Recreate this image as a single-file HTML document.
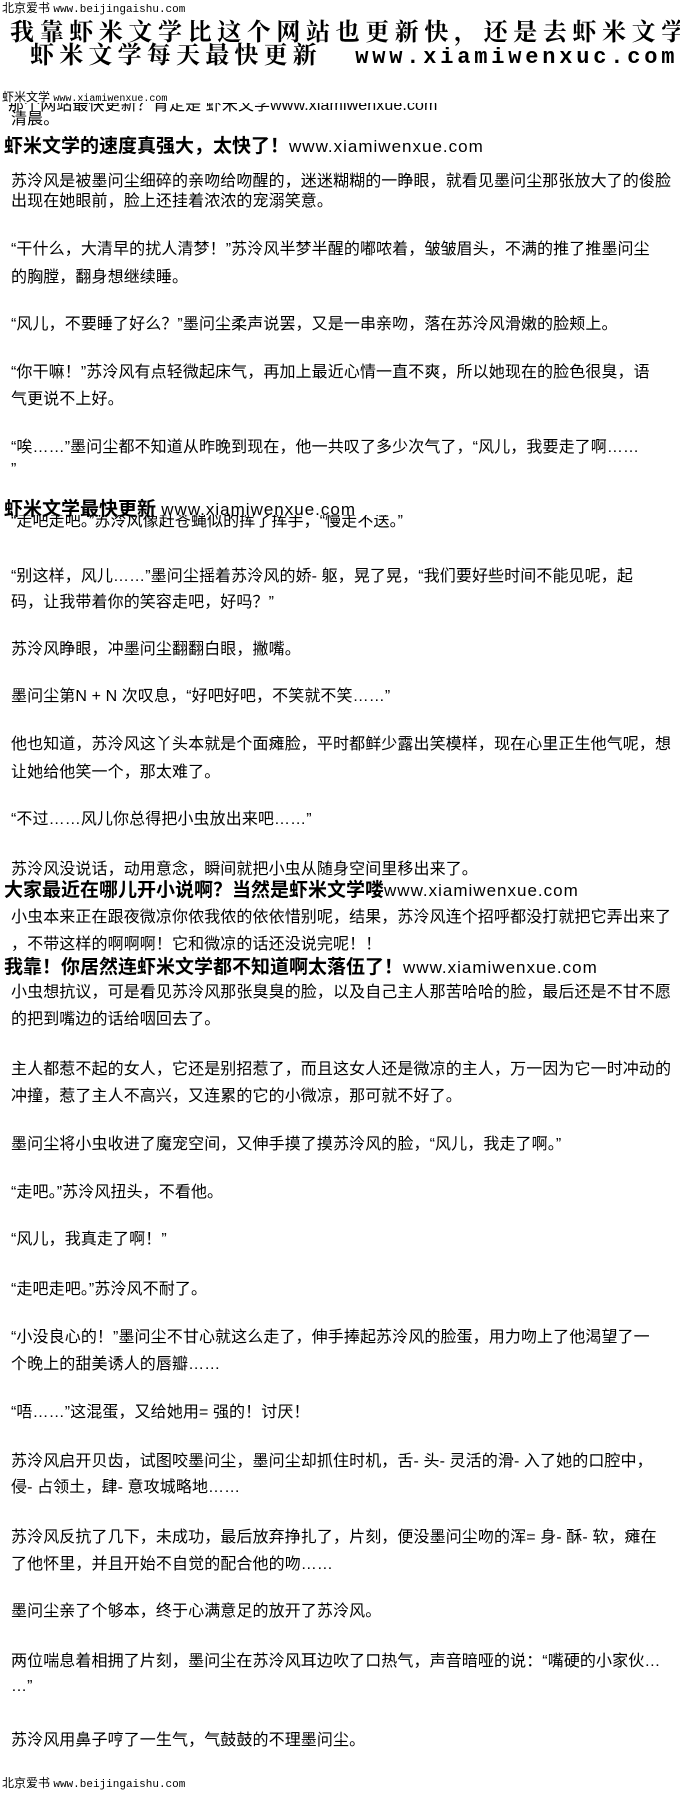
<!DOCTYPE html>
<html><head><meta charset="utf-8"><style>
html,body{margin:0;padding:0;background:#fff;}
body{width:680px;height:1794px;position:relative;overflow:hidden;font-family:"Liberation Sans","WenQuanYi Zen Hei","Noto Sans CJK SC",sans-serif;color:#000;}
.l{position:absolute;left:11px;white-space:nowrap;font-size:16px;line-height:18px;letter-spacing:0.1px;}
.h{position:absolute;left:4px;white-space:nowrap;font-size:19px;line-height:20px;font-weight:bold;}
.h span{font-weight:normal;font-size:17px;letter-spacing:1px;}
.s{position:absolute;left:2px;white-space:nowrap;font-size:12px;line-height:14px;}
.big{position:absolute;white-space:nowrap;font-family:"Liberation Serif","Noto Serif CJK SC",serif;font-weight:bold;font-size:24px;line-height:26px;}
</style></head><body>
<div class="s" style="top:1px">北京爱书 <span style="font-family:'Liberation Mono',monospace;font-size:11px">www.beijingaishu.com</span></div>
<div class="big" style="top:20px;left:10px;letter-spacing:5.6px">我靠虾米文学比这个网站也更新快，还是去虾米文学</div>
<div class="big" style="top:43px;left:30px;letter-spacing:5.2px">虾米文学每天最快更新 <span style="font-family:'Liberation Mono',monospace;font-size:22px;letter-spacing:3.8px;margin-left:22px">www.xiamiwenxuc.com</span></div>
<div class="s" style="top:90px">虾米文学 <span style="font-family:'Liberation Mono',monospace;font-size:10px">www.xiamiwenxue.com</span></div>
<div style="position:absolute;top:103px;left:0;width:680px;height:13px;overflow:hidden;"><div class="l" style="top:-6px;left:8px">那个网站最快更新？肯定是 虾米文学www.xiamiwenxue.com</div></div>
<div class="l" style="top:111px">清晨。</div>
<div class="h" style="top:137px">虾米文学的速度真强大，太快了！<span>www.xiamiwenxue.com</span></div>
<div class="l" style="top:173px">苏泠风是被墨问尘细碎的亲吻给吻醒的，迷迷糊糊的一睁眼，就看见墨问尘那张放大了的俊脸</div>
<div class="l" style="top:193px">出现在她眼前，脸上还挂着浓浓的宠溺笑意。</div>
<div class="l" style="top:241px">“干什么，大清早的扰人清梦！”苏泠风半梦半醒的嘟哝着，皱皱眉头，不满的推了推墨问尘</div>
<div class="l" style="top:269px">的胸膛，翻身想继续睡。</div>
<div class="l" style="top:316px">“风儿，不要睡了好么？”墨问尘柔声说罢，又是一串亲吻，落在苏泠风滑嫩的脸颊上。</div>
<div class="l" style="top:364px">“你干嘛！”苏泠风有点轻微起床气，再加上最近心情一直不爽，所以她现在的脸色很臭，语</div>
<div class="l" style="top:391px">气更说不上好。</div>
<div class="l" style="top:439px">“唉……”墨问尘都不知道从昨晚到现在，他一共叹了多少次气了，“风儿，我要走了啊……</div>
<div class="l" style="top:461px">”</div>
<div style="position:absolute;top:515px;left:0;width:680px;height:14px;overflow:hidden;"><div class="l" style="top:-2px">“走吧走吧。”苏泠风像赶苍蝇似的挥了挥手，“慢走不送。”</div></div>
<div class="h" style="top:500px">虾米文学最快更新 <span>www.xiamiwenxue.com</span></div>
<div class="l" style="top:568px">“别这样，风儿……”墨问尘摇着苏泠风的娇- 躯，晃了晃，“我们要好些时间不能见呢，起</div>
<div class="l" style="top:594px">码，让我带着你的笑容走吧，好吗？”</div>
<div class="l" style="top:641px">苏泠风睁眼，冲墨问尘翻翻白眼，撇嘴。</div>
<div class="l" style="top:688px">墨问尘第N + N 次叹息，“好吧好吧，不笑就不笑……”</div>
<div class="l" style="top:736px">他也知道，苏泠风这丫头本就是个面瘫脸，平时都鲜少露出笑模样，现在心里正生他气呢，想</div>
<div class="l" style="top:764px">让她给他笑一个，那太难了。</div>
<div class="l" style="top:811px">“不过……风儿你总得把小虫放出来吧……”</div>
<div class="l" style="top:861px">苏泠风没说话，动用意念，瞬间就把小虫从随身空间里移出来了。</div>
<div class="h" style="top:881px">大家最近在哪儿开小说啊？当然是虾米文学喽<span>www.xiamiwenxue.com</span></div>
<div class="l" style="top:909px">小虫本来正在跟夜微凉你侬我侬的依依惜别呢，结果，苏泠风连个招呼都没打就把它弄出来了</div>
<div class="l" style="top:936px">，不带这样的啊啊啊！它和微凉的话还没说完呢！！</div>
<div class="h" style="top:958px">我靠！你居然连虾米文学都不知道啊太落伍了！<span>www.xiamiwenxue.com</span></div>
<div class="l" style="top:984px">小虫想抗议，可是看见苏泠风那张臭臭的脸，以及自己主人那苦哈哈的脸，最后还是不甘不愿</div>
<div class="l" style="top:1011px">的把到嘴边的话给咽回去了。</div>
<div class="l" style="top:1061px">主人都惹不起的女人，它还是别招惹了，而且这女人还是微凉的主人，万一因为它一时冲动的</div>
<div class="l" style="top:1088px">冲撞，惹了主人不高兴，又连累的它的小微凉，那可就不好了。</div>
<div class="l" style="top:1136px">墨问尘将小虫收进了魔宠空间，又伸手摸了摸苏泠风的脸，“风儿，我走了啊。”</div>
<div class="l" style="top:1184px">“走吧。”苏泠风扭头，不看他。</div>
<div class="l" style="top:1231px">“风儿，我真走了啊！”</div>
<div class="l" style="top:1281px">“走吧走吧。”苏泠风不耐了。</div>
<div class="l" style="top:1329px">“小没良心的！”墨问尘不甘心就这么走了，伸手捧起苏泠风的脸蛋，用力吻上了他渴望了一</div>
<div class="l" style="top:1356px">个晚上的甜美诱人的唇瓣……</div>
<div class="l" style="top:1404px">“唔……”这混蛋，又给她用= 强的！讨厌！</div>
<div class="l" style="top:1453px">苏泠风启开贝齿，试图咬墨问尘，墨问尘却抓住时机，舌- 头- 灵活的滑- 入了她的口腔中，</div>
<div class="l" style="top:1479px">侵- 占领土，肆- 意攻城略地……</div>
<div class="l" style="top:1529px">苏泠风反抗了几下，未成功，最后放弃挣扎了，片刻，便没墨问尘吻的浑= 身- 酥- 软，瘫在</div>
<div class="l" style="top:1556px">了他怀里，并且开始不自觉的配合他的吻……</div>
<div class="l" style="top:1603px">墨问尘亲了个够本，终于心满意足的放开了苏泠风。</div>
<div class="l" style="top:1653px">两位喘息着相拥了片刻，墨问尘在苏泠风耳边吹了口热气，声音暗哑的说：“嘴硬的小家伙…</div>
<div class="l" style="top:1678px">…”</div>
<div class="l" style="top:1732px">苏泠风用鼻子哼了一生气，气鼓鼓的不理墨问尘。</div>
<div class="s" style="top:1776px">北京爱书 <span style="font-family:'Liberation Mono',monospace;font-size:11px">www.beijingaishu.com</span></div>
</body></html>
